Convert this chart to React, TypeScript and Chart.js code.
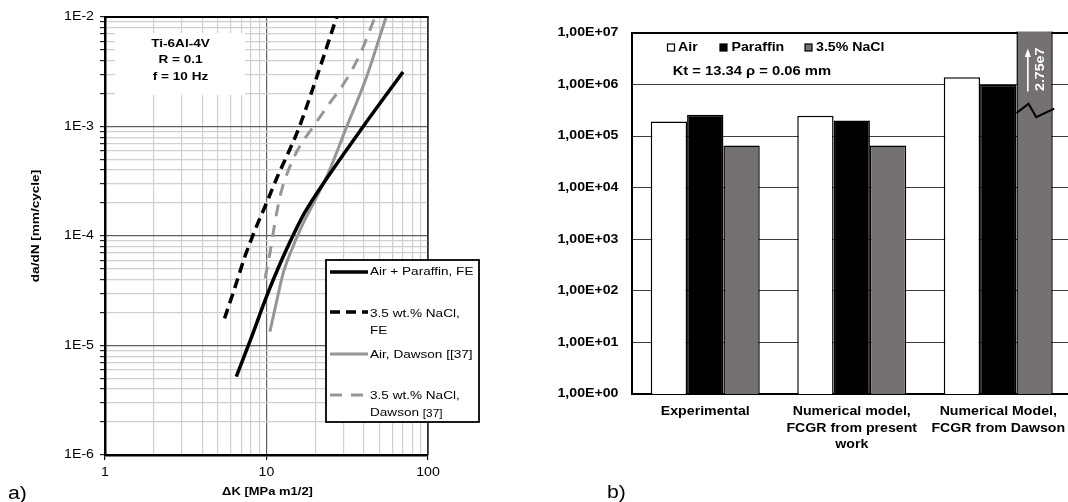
import React, { useEffect, useRef } from 'react';
import { Chart, registerables } from 'chart.js';

Chart.register(...registerables);

const FONT = '"Liberation Sans", Arial, Helvetica, sans-serif';
const TEXT_STRETCH = 1.18;

// ---------------- Panel a) : crack growth rate curves ----------------
const airParaffinFE_dK = [6.5, 8, 10, 12.4, 14.3, 17.3, 24.7, 39.7, 70];
const airParaffinFE_rate = [5.2e-6, 1.15e-5, 2.8e-5, 6.0e-5, 9.5e-5, 1.65e-4, 3.7e-4, 1.0e-3, 3.15e-3];

const naclFE_dK = [5.5, 6.4, 7.35, 8.5, 10, 11.6, 13.3, 15.7, 20.5, 27.2];
const naclFE_rate = [1.77e-5, 3.45e-5, 6.5e-5, 1.14e-4, 2.0e-4, 3.4e-4, 5.3e-4, 9.3e-4, 2.85e-3, 1.0e-2];

const airDawson_dK = [10.5, 11.6, 12.7, 14.3, 16.5, 20, 24.1, 31.4, 41.7, 55];
const airDawson_rate = [1.34e-5, 2.6e-5, 4.6e-5, 7.45e-5, 1.22e-4, 2.13e-4, 3.74e-4, 1.0e-3, 2.85e-3, 1.0e-2];

const naclDawson_dK = [9.8, 10.5, 11.3, 12.3, 13.5, 15.5, 19.5, 24, 30.6, 38, 47];
const naclDawson_rate = [4.1e-5, 7.0e-5, 1.35e-4, 2.5e-4, 3.8e-4, 6.0e-4, 1.0e-3, 1.55e-3, 2.56e-3, 4.6e-3, 1.0e-2];

const seriesLabelsA = ['Air + Paraffin, FE', '3.5 wt.% NaCl, FE', 'Air, Dawson [[37]', '3.5 wt.% NaCl, Dawson [37]'];
const legendLinesA = [['Air + Paraffin, FE'], ['3.5 wt.% NaCl,', 'FE'], ['Air, Dawson [[37]'], ['3.5 wt.% NaCl,', 'Dawson ']];
const legendSubA = ['', '', '', '[37]'];
const annotationA = ['Ti-6Al-4V', 'R = 0.1', 'f = 10 Hz'];

const xMajorTicksA = [1, 10, 100];
const xTickLabelsA = ['1', '10', '100'];
const yMajorTicksA = [1e-6, 1e-5, 1e-4, 1e-3, 1e-2];
const yTickLabelsA = ['1E-6', '1E-5', '1E-4', '1E-3', '1E-2'];
const minorMultipliers = [2, 3, 4, 5, 6, 7, 8, 9];
const xTitleA = 'ΔK [MPa m1/2]';
const yTitleA = 'da/dN [mm/cycle]';

// ---------------- Panel b) : fatigue life bars ----------------
const categoriesB = [['Experimental'], ['Numerical model,', 'FCGR from present', 'work'], ['Numerical Model,', 'FCGR from Dawson']];
const seriesNamesB = ['Air', 'Paraffin', '3.5% NaCl'];
const airCycles = [1.93e5, 2.49e5, 1.38e6];
const paraffinCycles = [2.6e5, 2.02e5, 9.9e5];
const naclCycles = [6.6e4, 6.6e4, 2.75e7];
const yTicksB = [1, 10, 100, 1e3, 1e4, 1e5, 1e6, 1e7];
const yTickLabelsB = ['1,00E+00', '1,00E+01', '1,00E+02', '1,00E+03', '1,00E+04', '1,00E+05', '1,00E+06', '1,00E+07'];
const breakLabelB = '2.75e7';
const breakValueB = 2.8e5;
const ktNoteB = 'Kt = 13.34 ρ = 0.06 mm';

const GRAY_LINE = '#969696';
const GRAY_BAR = '#767171';

function findMajor(v: number, majors: number[]) {
  return majors.findIndex((m) => Math.abs(v / m - 1) < 1e-6);
}

function logGridTicks(majors: number[]) {
  const out: { value: number }[] = [];
  majors.forEach((m, i) => {
    out.push({ value: m });
    if (i < majors.length - 1) minorMultipliers.forEach((k) => out.push({ value: m * k }));
  });
  return out;
}

function pts(xs: number[], ys: number[]) {
  return xs.map((x, i) => ({ x, y: ys[i] }));
}

function stretchText(ctx: any, s: number) {
  if (ctx.__stretched) return;
  ctx.__stretched = true;
  const fill = ctx.fillText.bind(ctx);
  const measure = ctx.measureText.bind(ctx);
  ctx.fillText = (text: string, x: number, y: number, maxWidth?: number) => {
    ctx.save();
    ctx.translate(x, y);
    ctx.scale(s, 1);
    if (maxWidth === undefined || maxWidth === null) fill(text, 0, 0);
    else fill(text, 0, 0, maxWidth / s);
    ctx.restore();
  };
  ctx.measureText = (text: string) => {
    const m = measure(text);
    return {
      width: m.width * s,
      actualBoundingBoxAscent: m.actualBoundingBoxAscent,
      actualBoundingBoxDescent: m.actualBoundingBoxDescent,
      actualBoundingBoxLeft: m.actualBoundingBoxLeft * s,
      actualBoundingBoxRight: m.actualBoundingBoxRight * s,
      fontBoundingBoxAscent: m.fontBoundingBoxAscent,
      fontBoundingBoxDescent: m.fontBoundingBoxDescent,
    };
  };
}

const panelAPlugin = {
  id: 'panelA',
  beforeDatasetsDraw(chart: any) {
    const { ctx, chartArea: ca } = chart;
    ctx.save();
    ctx.fillStyle = '#fff';
    ctx.fillRect(ca.left + 10, ca.top + 16, 130, 62);
    ctx.fillStyle = '#000';
    ctx.font = `bold 11.5px ${FONT}`;
    ctx.textAlign = 'center';
    ctx.textBaseline = 'middle';
    annotationA.forEach((t, i) => ctx.fillText(t, ca.left + 75.5, ca.top + 26.5 + i * 16.7));
    ctx.restore();
  },
  afterDatasetsDraw(chart: any) {
    const { ctx, chartArea: ca } = chart;
    ctx.save();
    ctx.strokeStyle = '#000';
    ctx.lineWidth = 2;
    ctx.beginPath();
    ctx.moveTo(ca.left, ca.top);
    ctx.lineTo(ca.right + 0.7, ca.top);
    ctx.stroke();
    ctx.strokeStyle = '#1a1a1a';
    ctx.lineWidth = 1.4;
    ctx.beginPath();
    ctx.moveTo(ca.right, ca.top);
    ctx.lineTo(ca.right, ca.bottom);
    ctx.stroke();

    const bx = ca.left + 221;
    const by = 260;
    ctx.fillStyle = '#fff';
    ctx.fillRect(bx, by, 153, 162);
    ctx.strokeStyle = '#000';
    ctx.lineWidth = 1.8;
    ctx.strokeRect(bx, by, 153, 162);
    const sampleY = [272, 312, 354, 395];
    const textY = [[272], [314, 330.5], [355], [396, 412.5]];
    chart.data.datasets.forEach((ds: any, i: number) => {
      ctx.strokeStyle = ds.borderColor;
      ctx.lineWidth = ds.borderWidth;
      ctx.setLineDash(ds.borderDash || []);
      ctx.beginPath();
      ctx.moveTo(bx + 4, sampleY[i]);
      ctx.lineTo(bx + 42, sampleY[i]);
      ctx.stroke();
      ctx.setLineDash([]);
      ctx.fillStyle = '#000';
      ctx.font = `11.5px ${FONT}`;
      ctx.textAlign = 'left';
      ctx.textBaseline = 'middle';
      const lines = legendLinesA[i];
      lines.forEach((t, j) => ctx.fillText(t, bx + 44, textY[i][j]));
      if (legendSubA[i]) {
        const last = lines[lines.length - 1];
        const w = ctx.measureText(last).width;
        ctx.font = `10px ${FONT}`;
        ctx.fillText(legendSubA[i], bx + 44 + w, textY[i][lines.length - 1] + 2);
      }
    });
    ctx.restore();
  },
  afterDraw(chart: any) {
    const { ctx, chartArea: ca } = chart;
    ctx.save();
    ctx.fillStyle = '#000';
    ctx.textAlign = 'center';
    ctx.textBaseline = 'middle';
    ctx.font = `bold 11px ${FONT}`;
    ctx.fillText(xTitleA, (ca.left + ca.right) / 2 + 1, 491.5);
    ctx.save();
    ctx.translate(36, 226);
    ctx.rotate(-Math.PI / 2);
    ctx.font = `bold 11.5px ${FONT}`;
    ctx.fillText(yTitleA, 0, 0);
    ctx.restore();
    ctx.textAlign = 'left';
    ctx.textBaseline = 'alphabetic';
    ctx.font = `18px ${FONT}`;
    ctx.fillText('a)', 8, 499);
    ctx.restore();
  },
};

const panelBPlugin = {
  id: 'panelB',
  beforeDatasetsDraw(chart: any) {
    const { ctx, chartArea: ca } = chart;
    ctx.save();
    ctx.strokeStyle = '#000';
    ctx.lineWidth = 2;
    ctx.beginPath();
    ctx.moveTo(ca.left, ca.top);
    ctx.lineTo(ca.right, ca.top);
    ctx.stroke();
    ctx.restore();
  },
  afterDatasetsDraw(chart: any) {
    const { ctx, chartArea: ca } = chart;
    ctx.save();
    const bar: any = chart.getDatasetMeta(2).data[2];
    const { x, width } = bar.getProps(['x', 'width'], true);
    const left = x - width / 2;
    const right = x + width / 2;
    const yb = chart.scales.y.getPixelForValue(breakValueB);
    ctx.strokeStyle = '#000';
    ctx.lineWidth = 2;
    ctx.lineJoin = 'miter';
    ctx.beginPath();
    ctx.moveTo(left, yb);
    ctx.lineTo(left + 0.334 * width, yb - 9.3);
    ctx.lineTo(left + 0.543 * width, yb + 4);
    ctx.lineTo(right + 1.5, yb - 4.5);
    ctx.stroke();
    const ax = left + 0.314 * width;
    ctx.strokeStyle = '#fff';
    ctx.fillStyle = '#fff';
    ctx.lineWidth = 1.6;
    ctx.beginPath();
    ctx.moveTo(ax, ca.top + 58.5);
    ctx.lineTo(ax, ca.top + 23);
    ctx.stroke();
    ctx.beginPath();
    ctx.moveTo(ax, ca.top + 15.5);
    ctx.lineTo(ax - 3, ca.top + 24);
    ctx.lineTo(ax + 3, ca.top + 24);
    ctx.closePath();
    ctx.fill();
    ctx.save();
    ctx.translate(left + 0.669 * width, ca.top + 36.3);
    ctx.rotate(-Math.PI / 2);
    ctx.font = `bold 12px ${FONT}`;
    ctx.textAlign = 'center';
    ctx.textBaseline = 'middle';
    ctx.fillText(breakLabelB, 0, 0);
    ctx.restore();

    const ly = ca.top + 14.5;
    const boxes = [ca.left + 35.5, ca.left + 88, ca.left + 173];
    const texts = [ca.left + 46, ca.left + 99.5, ca.left + 184];
    chart.data.datasets.forEach((ds: any, i: number) => {
      ctx.fillStyle = ds.backgroundColor;
      ctx.fillRect(boxes[i], ly - 3.5, 7, 7);
      ctx.strokeStyle = '#000';
      ctx.lineWidth = 1.2;
      ctx.strokeRect(boxes[i], ly - 3.5, 7, 7);
      ctx.fillStyle = '#000';
      ctx.font = `bold 12px ${FONT}`;
      ctx.textAlign = 'left';
      ctx.textBaseline = 'middle';
      ctx.fillText(seriesNamesB[i], texts[i], ly);
    });
    ctx.font = `bold 12.5px ${FONT}`;
    ctx.fillText(ktNoteB, ca.left + 40.7, ca.top + 38.4);

    ctx.textBaseline = 'alphabetic';
    ctx.font = `18px ${FONT}`;
    ctx.fillText('b)', 127, 498);
    ctx.restore();
  },
};

export default function App() {
  const refA = useRef<HTMLCanvasElement>(null);
  const refB = useRef<HTMLCanvasElement>(null);

  useEffect(() => {
    const ctxA = refA.current!.getContext('2d')!;
    const ctxB = refB.current!.getContext('2d')!;
    stretchText(ctxA, TEXT_STRETCH);
    stretchText(ctxB, TEXT_STRETCH);

    const lineCommon = { pointRadius: 0, fill: false, cubicInterpolationMode: 'monotone', borderCapStyle: 'butt' };

    const chartA = new Chart(ctxA as any, {
      type: 'line',
      data: {
        datasets: [
          { ...lineCommon, label: seriesLabelsA[0], data: pts(airParaffinFE_dK, airParaffinFE_rate), borderColor: '#000', borderWidth: 3.5 },
          { ...lineCommon, label: seriesLabelsA[1], data: pts(naclFE_dK, naclFE_rate), borderColor: '#000', borderWidth: 3.5, borderDash: [10, 6] },
          { ...lineCommon, label: seriesLabelsA[2], data: pts(airDawson_dK, airDawson_rate), borderColor: GRAY_LINE, borderWidth: 3 },
          { ...lineCommon, label: seriesLabelsA[3], data: pts(naclDawson_dK, naclDawson_rate), borderColor: GRAY_LINE, borderWidth: 3, borderDash: [12, 9] },
        ] as any,
      },
      options: {
        responsive: false,
        animation: false,
        devicePixelRatio: 1,
        layout: { padding: { left: 0, top: 17, right: 52, bottom: 0 } },
        plugins: { legend: { display: false }, tooltip: { enabled: false } },
        scales: {
          x: {
            type: 'logarithmic',
            min: 1,
            max: 100,
            afterBuildTicks: (s: any) => { s.ticks = logGridTicks(xMajorTicksA); },
            afterFit: (s: any) => { s.height = 47; },
            grid: {
              color: (c: any) => (findMajor(c.tick.value, xMajorTicksA) >= 0 ? '#5f5f5f' : '#d0d0d0'),
              lineWidth: 1.2,
              tickColor: (c: any) => (findMajor(c.tick.value, xMajorTicksA) >= 0 ? '#000' : 'rgba(0,0,0,0)'),
              tickLength: 5,
            },
            border: { color: '#000', width: 2.5 },
            ticks: {
              autoSkip: false,
              maxRotation: 0,
              padding: 5,
              color: '#000',
              font: { family: FONT, size: 12 },
              callback: (v: any) => { const k = findMajor(Number(v), xMajorTicksA); return k >= 0 ? xTickLabelsA[k] : ''; },
            },
          },
          y: {
            type: 'logarithmic',
            min: 1e-6,
            max: 1e-2,
            afterBuildTicks: (s: any) => { s.ticks = logGridTicks(yMajorTicksA); },
            afterFit: (s: any) => { s.width = 105; },
            grid: {
              color: (c: any) => (findMajor(c.tick.value, yMajorTicksA) >= 0 ? '#5f5f5f' : '#d0d0d0'),
              lineWidth: 1.2,
              tickColor: '#222',
              tickLength: 5,
            },
            border: { color: '#000', width: 2.5 },
            ticks: {
              autoSkip: false,
              padding: 6,
              color: '#000',
              font: { family: FONT, size: 12 },
              callback: (v: any) => { const k = findMajor(Number(v), yMajorTicksA); return k >= 0 ? yTickLabelsA[k] : ''; },
            },
          },
        },
      } as any,
      plugins: [panelAPlugin],
    });

    const barCommon = { borderColor: '#000', borderWidth: 1.5, categoryPercentage: 0.744, barPercentage: 1 };
    const chartB = new Chart(ctxB as any, {
      type: 'bar',
      data: {
        labels: categoriesB,
        datasets: [
          { ...barCommon, label: seriesNamesB[0], data: airCycles, backgroundColor: '#fff' },
          { ...barCommon, label: seriesNamesB[1], data: paraffinCycles, backgroundColor: '#000' },
          { ...barCommon, label: seriesNamesB[2], data: naclCycles, backgroundColor: GRAY_BAR, clip: 1.5 },
        ] as any,
      },
      options: {
        responsive: false,
        animation: false,
        devicePixelRatio: 1,
        layout: { padding: { left: 0, top: 33, right: 8.5, bottom: 0 } },
        plugins: { legend: { display: false }, tooltip: { enabled: false } },
        scales: {
          x: {
            type: 'category',
            afterFit: (s: any) => { s.height = 108; },
            grid: { display: false, drawTicks: false },
            border: { color: '#000', width: 2 },
            ticks: {
              autoSkip: false,
              maxRotation: 0,
              padding: 9.9,
              color: '#000',
              font: { family: FONT, size: 12, weight: 'bold', lineHeight: 1.35 },
            },
          },
          y: {
            type: 'logarithmic',
            min: 1,
            max: 1e7,
            afterBuildTicks: (s: any) => { s.ticks = yTicksB.map((v) => ({ value: v })); },
            afterFit: (s: any) => { s.width = 152; },
            grid: { color: '#3c3c3c', lineWidth: 1, drawTicks: false },
            border: { color: '#000', width: 2 },
            ticks: {
              autoSkip: false,
              padding: 13.5,
              color: '#000',
              font: { family: FONT, size: 12, weight: 'bold' },
              callback: (v: any) => { const k = findMajor(Number(v), yTicksB); return k >= 0 ? yTickLabelsB[k] : ''; },
            },
          },
        },
      } as any,
      plugins: [panelBPlugin],
    });

    return () => {
      chartA.destroy();
      chartB.destroy();
    };
  }, []);

  return (
    <div style={{ position: 'fixed', left: 0, top: 0, width: 1068, height: 502, overflow: 'hidden', background: '#fff' }}>
      <canvas ref={refA} width={480} height={502} style={{ position: 'absolute', left: 0, top: 0, width: 480, height: 502 }} />
      <canvas ref={refB} width={600} height={502} style={{ position: 'absolute', left: 480, top: 0, width: 600, height: 502 }} />
    </div>
  );
}
